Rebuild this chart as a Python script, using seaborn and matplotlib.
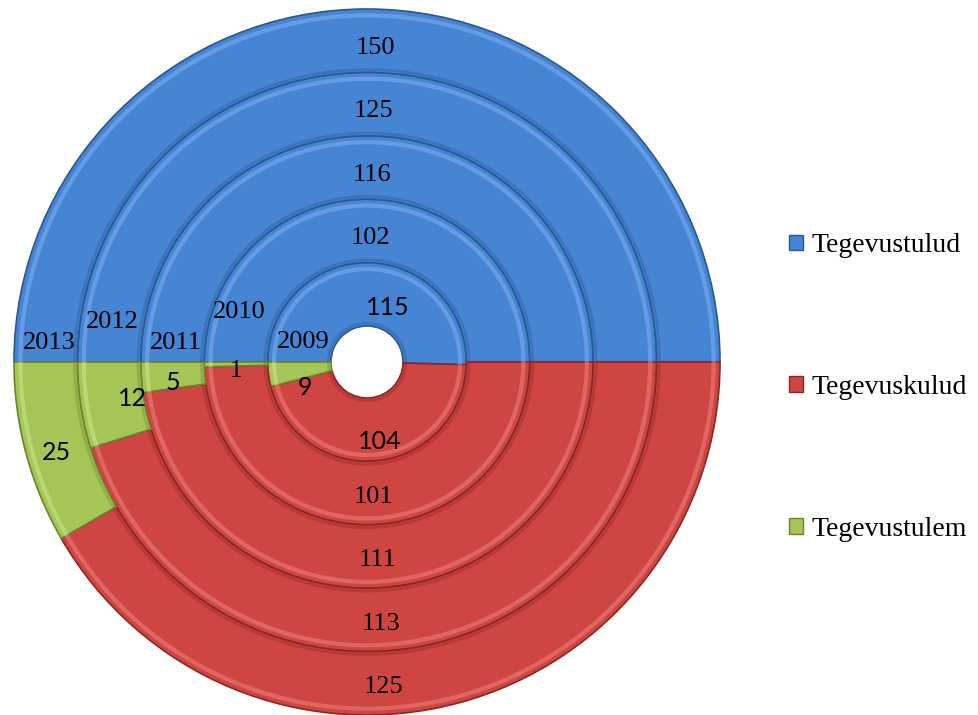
import numpy as np
import matplotlib
matplotlib.use("Agg")
import matplotlib.pyplot as plt
import seaborn as sns
from matplotlib.patches import Patch

# andmed (sisemine ring = 2009, välimine = 2013)
years = ["2009", "2010", "2011", "2012", "2013"]
tulud = [115, 102, 116, 125, 150]
kulud = [104, 101, 111, 113, 125]
tulem = [9, 1, 5, 12, 25]
series_names = ["Tegevustulud", "Tegevuskulud", "Tegevustulem"]

colors = ["#4684D4", "#CF4541", "#A5C556"]
dark = ["#2B5791", "#8A2624", "#6A8430"]
light = ["#7FB0F0", "#EC8480", "#CDE68C"]

sns.set_theme(style="white")
plt.rcParams["font.family"] = ["Liberation Serif", "DejaVu Serif"]
plt.rcParams["text.color"] = "black"

SERIF = ["Liberation Serif", "DejaVu Serif"]
SANS = ["Lato", "DejaVu Sans"]

W, H = 979, 715
fig = plt.figure(figsize=(W / 100, H / 100), dpi=100)
cx, cy, R = 367, 362, 353
ax = fig.add_axes([(cx - R) / W, (H - cy - R) / H, 2 * R / W, 2 * R / H])

hole = 36 / R
width = (1 - hole) / len(years)

# sildi nihked (ainult paigutus)
year_dy = [0.057, 0.142, 0.054, 0.113, 0.054]
green_nudge = [(0.014, -0.028), (0, 0), (0, 0), (0.057, 0.025), (0, 0)]

for i, yr in enumerate(years):
    vals = [tulud[i], kulud[i], tulem[i]]
    r_out = hole + (i + 1) * width
    r_mid = r_out - width / 2
    wedges, _ = ax.pie(vals, radius=r_out, startangle=180, counterclock=False,
                       colors=colors, wedgeprops=dict(width=width, linewidth=1.2))
    for w, ec in zip(wedges, dark):
        w.set_edgecolor(ec)
    # kerge "bevel" efekt
    ax.pie(vals, radius=r_out - 0.012, startangle=180, counterclock=False,
           colors=light, wedgeprops=dict(width=0.012, linewidth=0, alpha=0.55))
    ax.pie(vals, radius=r_out - width + 0.012, startangle=180, counterclock=False,
           colors=dark, wedgeprops=dict(width=0.008, linewidth=0, alpha=0.35))

    sans = (i == 0)
    fam = SANS if sans else SERIF
    fs = 18 if sans else 19

    # tulud - üleval
    if i == 0:
        ax.text(0.06, 0.155, str(tulud[i]), ha="center", va="center", fontsize=fs, family=fam)
    else:
        a = np.deg2rad(88.5)
        rr = r_mid - 0.02
        ax.text(rr * np.cos(a), rr * np.sin(a), str(tulud[i]),
                ha="center", va="center", fontsize=fs, family=fam)
    # kulud - all
    if i == 0:
        ax.text(0.037, -0.225, str(kulud[i]), ha="center", va="center", fontsize=fs, family=fam)
    else:
        a = np.deg2rad(-87)
        ax.text(r_mid * np.cos(a), r_mid * np.sin(a) - 0.012, str(kulud[i]),
                ha="center", va="center", fontsize=fs, family=fam)
    # tulem - roheline sektor
    gw = wedges[2]
    a = np.deg2rad((gw.theta1 + gw.theta2) / 2)
    gfam = SERIF if tulem[i] == 1 else SANS
    dx, dy = green_nudge[i]
    ax.text(r_mid * np.cos(a) + dx, r_mid * np.sin(a) - 0.02 + dy, str(tulem[i]),
            ha="center", va="center", fontsize=18, family=gfam)
    # aasta
    ax.text(-r_mid + 0.01, year_dy[i], yr, ha="center", va="center",
            fontsize=19, family=SERIF)

ax.set_xlim(-1, 1)
ax.set_ylim(-1, 1)
ax.set_aspect("equal")
ax.axis("off")

handles = [Patch(facecolor=c, edgecolor=d, linewidth=1) for c, d in zip(colors, dark)]
fig.legend(handles, series_names, loc="center left", bbox_to_anchor=(789 / W, 0.458),
           frameon=False, handlelength=0.5, handleheight=0.5,
           handletextpad=0.3, labelspacing=4.2, borderpad=0, borderaxespad=0,
           prop={"family": SERIF, "size": 20})

fig.savefig("out.png", dpi=100)
